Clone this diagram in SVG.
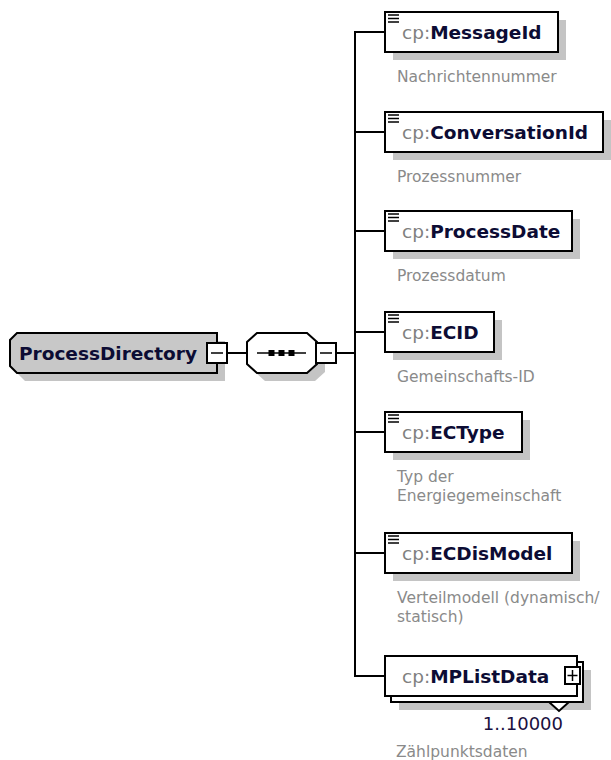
<svg xmlns="http://www.w3.org/2000/svg" width="611" height="760" viewBox="0 0 611 760">
<style>
  .shadow { fill: #c4c4c4; stroke: none; }
  .box { fill: #ffffff; stroke: #000000; stroke-width: 2; }
  .main { fill: #c8c8c8; stroke: #000000; stroke-width: 2; }
  .conn { fill: none; stroke: #000000; stroke-width: 2; }
  .icon { stroke: #000000; stroke-width: 1.5; }
  .name { font-family: "DejaVu Sans", Verdana, sans-serif; font-size: 18.5px; }
  .pre { fill: #808080; font-weight: normal; }
  .nm { fill: #0c0c34; font-weight: bold; }
  .desc { font-family: "DejaVu Sans", Verdana, sans-serif; font-size: 15.5px; fill: #8a8a8a; }
  .mult { font-family: "DejaVu Sans", Verdana, sans-serif; font-size: 18px; fill: #1a1040; }
</style>
<rect width="611" height="760" fill="#ffffff"/>

<g id="connectors">
  <line class="conn" x1="227" y1="353" x2="247" y2="353"/>
  <line class="conn" x1="336" y1="353" x2="356" y2="353"/>
  <line class="conn" x1="355" y1="31" x2="355" y2="677"/>
  <line class="conn" x1="354" y1="32" x2="385" y2="32"/>
  <line class="conn" x1="354" y1="132" x2="385" y2="132"/>
  <line class="conn" x1="354" y1="231" x2="385" y2="231"/>
  <line class="conn" x1="354" y1="332" x2="385" y2="332"/>
  <line class="conn" x1="354" y1="432" x2="385" y2="432"/>
  <line class="conn" x1="354" y1="553" x2="385" y2="553"/>
  <line class="conn" x1="354" y1="676" x2="385" y2="676"/>
</g>

<g id="ProcessDirectory">
  <polygon class="shadow" points="25,341 225,341 225,381 25,381 18,374 18,348"/>
  <polygon class="main" points="17,333 217,333 217,373 17,373 10,366 10,340"/>
  <text class="name" x="19" y="360"><tspan class="nm">ProcessDirectory</tspan></text>
  <rect class="box" x="207" y="343" width="20" height="20"/>
  <line class="icon" x1="211" y1="353" x2="223" y2="353"/>
</g>

<g id="sequence">
  <polygon class="shadow" points="265,341 315,341 325,350 325,372 315,381 265,381 255,372 255,350"/>
  <polygon class="box" points="257,333 307,333 317,342 317,364 307,373 257,373 247,364 247,342"/>
  <line class="icon" x1="257" y1="353" x2="306" y2="353"/>
  <rect x="268.5" y="350" width="6" height="6" fill="#000"/>
  <rect x="278.5" y="350" width="6" height="6" fill="#000"/>
  <rect x="288.5" y="350" width="6" height="6" fill="#000"/>
  <rect class="box" x="316" y="343" width="20" height="20"/>
  <line class="icon" x1="320" y1="353" x2="332" y2="353"/>
</g>

<g id="MessageId">
  <rect class="shadow" x="393" y="20" width="173" height="40"/>
  <rect class="box" x="385" y="12" width="173" height="40"/>
  <line class="icon" x1="388" y1="15" x2="399" y2="15"/><line class="icon" x1="388" y1="18.5" x2="399" y2="18.5"/><line class="icon" x1="388" y1="22" x2="399" y2="22"/>
  <text class="name" x="402" y="39"><tspan class="pre">cp:</tspan><tspan class="nm">MessageId</tspan></text>
  <text class="desc" x="397" y="82">Nachrichtennummer</text>
</g>

<g id="ConversationId">
  <rect class="shadow" x="393" y="120" width="218" height="40"/>
  <rect class="box" x="385" y="112" width="218" height="40"/>
  <line class="icon" x1="388" y1="115" x2="399" y2="115"/><line class="icon" x1="388" y1="118.5" x2="399" y2="118.5"/><line class="icon" x1="388" y1="122" x2="399" y2="122"/>
  <text class="name" x="402" y="139"><tspan class="pre">cp:</tspan><tspan class="nm">ConversationId</tspan></text>
  <text class="desc" x="397" y="182">Prozessnummer</text>
</g>

<g id="ProcessDate">
  <rect class="shadow" x="393" y="219" width="187" height="40"/>
  <rect class="box" x="385" y="211" width="187" height="40"/>
  <line class="icon" x1="388" y1="214" x2="399" y2="214"/><line class="icon" x1="388" y1="217.5" x2="399" y2="217.5"/><line class="icon" x1="388" y1="221" x2="399" y2="221"/>
  <text class="name" x="402" y="238"><tspan class="pre">cp:</tspan><tspan class="nm">ProcessDate</tspan></text>
  <text class="desc" x="397" y="281">Prozessdatum</text>
</g>

<g id="ECID">
  <rect class="shadow" x="393" y="320" width="109" height="40"/>
  <rect class="box" x="385" y="312" width="109" height="40"/>
  <line class="icon" x1="388" y1="315" x2="399" y2="315"/><line class="icon" x1="388" y1="318.5" x2="399" y2="318.5"/><line class="icon" x1="388" y1="322" x2="399" y2="322"/>
  <text class="name" x="402" y="339"><tspan class="pre">cp:</tspan><tspan class="nm">ECID</tspan></text>
  <text class="desc" x="397" y="382">Gemeinschafts-ID</text>
</g>

<g id="ECType">
  <rect class="shadow" x="393" y="420" width="137" height="40"/>
  <rect class="box" x="385" y="412" width="137" height="40"/>
  <line class="icon" x1="388" y1="415" x2="399" y2="415"/><line class="icon" x1="388" y1="418.5" x2="399" y2="418.5"/><line class="icon" x1="388" y1="422" x2="399" y2="422"/>
  <text class="name" x="402" y="439"><tspan class="pre">cp:</tspan><tspan class="nm">ECType</tspan></text>
  <text class="desc" x="397" y="482">Typ der</text>
  <text class="desc" x="397" y="501">Energiegemeinschaft</text>
</g>

<g id="ECDisModel">
  <rect class="shadow" x="393" y="541" width="187" height="40"/>
  <rect class="box" x="385" y="533" width="187" height="40"/>
  <line class="icon" x1="388" y1="536" x2="399" y2="536"/><line class="icon" x1="388" y1="539.5" x2="399" y2="539.5"/><line class="icon" x1="388" y1="543" x2="399" y2="543"/>
  <text class="name" x="402" y="560"><tspan class="pre">cp:</tspan><tspan class="nm">ECDisModel</tspan></text>
  <text class="desc" x="397" y="603">Verteilmodell (dynamisch/</text>
  <text class="desc" x="397" y="622">statisch)</text>
</g>

<g id="MPListData">
  <rect class="shadow" x="399" y="670" width="192" height="40"/>
  <rect class="box" x="391" y="662" width="192" height="40"/>
  <polygon class="box" points="549,702 559,711 569,702"/>
  <rect class="box" x="385" y="656" width="192" height="40"/>
  <text class="name" x="402" y="683"><tspan class="pre">cp:</tspan><tspan class="nm">MPListData</tspan></text>
  <rect class="box" x="565" y="667" width="15" height="17"/>
  <line class="icon" x1="567.5" y1="675.5" x2="577.5" y2="675.5"/>
  <line class="icon" x1="572.5" y1="670" x2="572.5" y2="681"/>
  <text class="mult" x="563" y="730" text-anchor="end">1..10000</text>
  <text class="desc" x="396" y="757">Zählpunktsdaten</text>
</g>
</svg>
